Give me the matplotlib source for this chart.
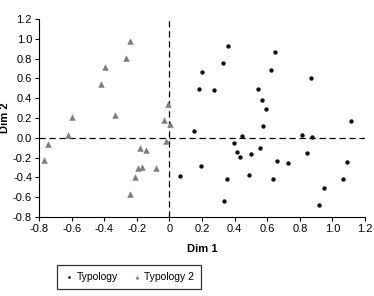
import matplotlib
matplotlib.use("Agg")
import matplotlib.pyplot as plt

plt.rcParams['font.family'] = ['Liberation Sans', 'DejaVu Sans']

# Typology (circles)
typ1_x = [0.361, 0.331, 0.202, 0.180, 0.272, 0.545, 0.568, 0.594, 0.572, 0.149,
          0.447, 0.647, 0.623, 0.866, 1.117, 0.815, 0.874, 0.398, 0.417, 0.431,
          0.500, 0.556, 0.192, 0.067, 0.353, 0.490, 0.337, 0.660, 0.729, 0.845,
          0.637, 1.090, 1.066, 0.949, 0.915]
typ1_y = [0.929, 0.755, 0.660, 0.493, 0.479, 0.496, 0.383, 0.295, 0.124, 0.073,
          0.016, 0.866, 0.688, 0.607, 0.171, 0.033, 0.010, -0.057, -0.148, -0.198,
          -0.161, -0.105, -0.289, -0.383, -0.420, -0.377, -0.638, -0.239, -0.253, -0.155,
          -0.413, -0.246, -0.413, -0.503, -0.682]

# Typology 2 (triangles)
typ2_x = [-0.243, -0.267, -0.398, -0.418, -0.010, -0.600, -0.331, -0.032, 0.002, -0.625,
          -0.745, -0.772, -0.181, -0.145, -0.024, -0.192, -0.167, -0.081, -0.210, -0.239]
typ2_y = [0.975, 0.810, 0.712, 0.547, 0.345, 0.208, 0.228, 0.175, 0.142, 0.025,
          -0.065, -0.228, -0.098, -0.128, -0.037, -0.309, -0.296, -0.306, -0.400, -0.571]

xticks = [-0.8, -0.6, -0.4, -0.2, 0, 0.2, 0.4, 0.6, 0.8, 1.0, 1.2]
xtick_labels = ['-0.8', '-0.6', '-0.4', '-0.2', '0', '0.2', '0.4', '0.6', '0.8', '1.0', '1.2']
yticks = [-0.8, -0.6, -0.4, -0.2, 0.0, 0.2, 0.4, 0.6, 0.8, 1.0, 1.2]
ytick_labels = ['-0.8', '-0.6', '-0.4', '-0.2', '0.0', '0.2', '0.4', '0.6', '0.8', '1.0', '1.2']

fig = plt.figure(figsize=(3.74, 2.96), dpi=100)
ax = fig.add_axes([0.1043, 0.2669, 0.9760 - 0.1043, 0.9358 - 0.2669])

ax.axvline(0, color='black', lw=0.9, ls=(0, (5, 3)), zorder=1)
ax.axhline(0, color='black', lw=0.9, ls=(0, (5, 3)), zorder=1)

ax.scatter(typ1_x, typ1_y, marker='o', s=10, color='#111111', label='Typology', zorder=3, linewidths=0)
ax.scatter(typ2_x, typ2_y, marker='^', s=22, color='#7f7f7f', label='Typology 2', zorder=3, linewidths=0)

ax.set_xlim(-0.8, 1.2)
ax.set_ylim(-0.8, 1.2)
ax.set_xticks(xticks)
ax.set_xticklabels(xtick_labels)
ax.set_yticks(yticks)
ax.set_yticklabels(ytick_labels)
ax.tick_params(direction='out', length=3, width=0.8, labelsize=8, colors='black', pad=2)
for s in ['top', 'right']:
    ax.spines[s].set_visible(False)
for s in ['left', 'bottom']:
    ax.spines[s].set_linewidth(0.8)

ax.set_xlabel('Dim 1', fontsize=8, fontweight='bold', labelpad=7)
ax.set_ylabel('Dim 2', fontsize=8, fontweight='bold')
ax.yaxis.set_label_coords(-0.089, 0.5)

leg = fig.legend(loc='center', bbox_to_anchor=(0.345, 0.064), ncol=2, fontsize=7.5,
                 frameon=True, fancybox=False, edgecolor='black', markerscale=0.6,
                 handletextpad=0.2, columnspacing=1.3, borderpad=0.7, handlelength=1.0)
leg.get_frame().set_linewidth(0.9)

fig.savefig('out.png', dpi=100)
